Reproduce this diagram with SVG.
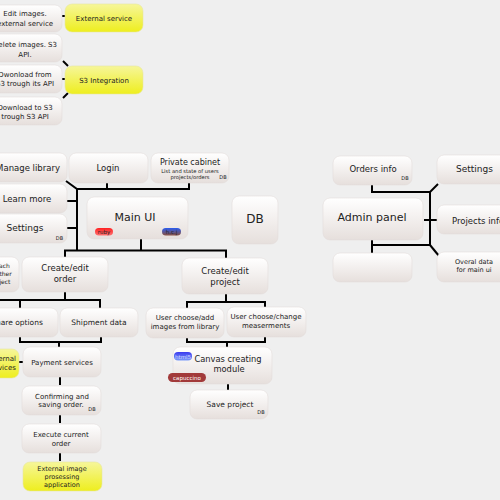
<svg xmlns="http://www.w3.org/2000/svg" width="500" height="500" viewBox="0 0 500 500">
<defs>
<linearGradient id="gw" x1="0" y1="0" x2="0" y2="1"><stop offset="0" stop-color="#ffffff"/><stop offset="1" stop-color="#e6dfdc"/></linearGradient>
<linearGradient id="gy" x1="0" y1="0" x2="0" y2="1"><stop offset="0" stop-color="#f6f69a"/><stop offset="1" stop-color="#eeee1e"/></linearGradient>
<linearGradient id="gr" x1="0" y1="0" x2="0" y2="1"><stop offset="0" stop-color="#ff2020"/><stop offset="1" stop-color="#ff7070"/></linearGradient>
<linearGradient id="gb" x1="0" y1="0" x2="0" y2="1"><stop offset="0" stop-color="#2a5cf0"/><stop offset="1" stop-color="#8a5040"/></linearGradient>
<linearGradient id="gh" x1="0" y1="0" x2="0" y2="1"><stop offset="0" stop-color="#3a3af0"/><stop offset="1" stop-color="#7a9af8"/></linearGradient>
<style>
.b{fill:url(#gw);stroke:#e2dcda;stroke-width:0.6}
.y{fill:url(#gy);stroke:#e6e6a0;stroke-width:0.6}
text{font-family:"DejaVu Sans","Liberation Sans",sans-serif;fill:#222;text-anchor:middle}
.s7{font-size:7px}
.s75{font-size:7.5px}
.s85{font-size:8.5px}
.s9{font-size:9px}
.s11{font-size:11px}
.db{font-size:5px}
.c{stroke:#000;stroke-width:2;fill:none}
.tag{font-size:5.5px}
</style>
</defs>
<rect x="0" y="0" width="500" height="500" fill="#efefef"/>

<g id="connectors" class="c">
<path d="M62,16H65"/>
<path d="M63,61L68,66"/>
<path d="M62,79H65"/>
<path d="M63,98L68,93"/>
<path d="M66,181L77,189H190"/>
<path d="M107,183V190"/>
<path d="M189,183V190"/>
<path d="M77,189V251"/>
<path d="M67,201H77"/>
<path d="M67,228H77"/>
<path d="M64,250.5H227"/>
<path d="M141,239V251"/>
<path d="M65,250V257"/>
<path d="M226,250V258"/>
<path d="M65,292V300"/>
<path d="M-5,300H101"/>
<path d="M20,300V308"/>
<path d="M100,300V308"/>
<path d="M20,337V342H101V337"/>
<path d="M59,342V348"/>
<path d="M19,362H23"/>
<path d="M60,377V385"/>
<path d="M60,415V423"/>
<path d="M60,453V461"/>
<path d="M226,294V302"/>
<path d="M186,302H266"/>
<path d="M187,302V308"/>
<path d="M265,302V307"/>
<path d="M187,338V342H265V337"/>
<path d="M227,342V347"/>
<path d="M228,384V390"/>
<path d="M372,185V192H431"/>
<path d="M430,192V246"/>
<path d="M372,245H431"/>
<path d="M372,240V253"/>
<path d="M430,192L438,184"/>
<path d="M424,220H437"/>
<path d="M430,245L439,256"/>
</g>

<g id="edit-images"><rect class="b" x="-12" y="5" width="74" height="27" rx="7"/><text class="s7" x="25" y="16">Edit images.</text><text class="s7" x="25" y="25.5">external service</text></g>
<g id="external-service"><rect class="y" x="65" y="4" width="78" height="28" rx="7"/><text class="s7" x="104" y="20.5">External service</text></g>
<g id="delete-images"><rect class="b" x="-12" y="34" width="74" height="28" rx="7"/><text class="s7" x="25" y="46.5">Delete images. S3</text><text class="s7" x="25" y="56.5">API.</text></g>
<g id="download-from"><rect class="b" x="-12" y="65" width="74" height="28" rx="7"/><text class="s7" x="25" y="76.5">Dwonload from</text><text class="s7" x="25" y="85.5">S3 trough its API</text></g>
<g id="s3-integration"><rect class="y" x="65" y="66" width="78" height="28" rx="7"/><text class="s7" x="104" y="82.5">S3 Integration</text></g>
<g id="download-to"><rect class="b" x="-12" y="97" width="74" height="28" rx="7"/><text class="s7" x="25" y="109.5">Download to S3</text><text class="s7" x="25" y="118.5">trough S3 API</text></g>

<g id="manage-library"><rect class="b" x="-12" y="153" width="79" height="29" rx="7"/><text class="s85" x="28" y="170.5">Manage library</text></g>
<g id="login"><rect class="b" x="69" y="153" width="79" height="30" rx="7"/><text class="s85" x="108" y="171">Login</text></g>
<g id="private-cabinet"><rect class="b" x="151" y="153" width="78" height="30" rx="7"/><text x="190" y="165" style="font-size:8px">Private cabinet</text><text x="190" y="172.5" style="font-size:5.2px">List and state of users</text><text x="190" y="178.5" style="font-size:5.2px">projects/orders</text><text class="db" x="223" y="179">DB</text></g>
<g id="learn-more"><rect class="b" x="-12" y="184" width="79" height="29" rx="7"/><text class="s85" x="27" y="201.5">Learn more</text></g>
<g id="settings-left"><rect class="b" x="-12" y="214" width="79" height="29" rx="7"/><text class="s9" x="25" y="230.5">Settings</text><text class="db" x="59.5" y="239.5">DB</text></g>
<g id="main-ui"><rect class="b" x="87" y="197" width="101" height="42" rx="7"/><text class="s11" x="135" y="221">Main UI</text>
<rect x="95" y="228" width="18" height="7.5" rx="3.75" fill="url(#gr)"/><text class="tag" x="104" y="234">ruby</text>
<rect x="162" y="228" width="19" height="7.5" rx="3.75" fill="url(#gb)"/><text class="tag" x="171.5" y="234">h.c.j</text></g>
<g id="db"><rect class="b" x="232" y="196" width="46" height="48" rx="7"/><text x="255" y="222.5" style="font-size:12px">DB</text></g>

<g id="attach-project"><rect class="b" x="-17" y="257" width="36" height="35" rx="7"/><text x="0" y="267.5" style="font-size:6px">Attach</text><text x="0" y="275.5" style="font-size:6px">another</text><text x="0" y="283.5" style="font-size:6px">project</text></g>
<g id="create-order"><rect class="b" x="22" y="257" width="86" height="35" rx="7"/><text class="s85" x="65" y="271">Create/edit</text><text class="s85" x="65" y="282">order</text></g>
<g id="create-project"><rect class="b" x="182" y="258" width="86" height="36" rx="7"/><text class="s85" x="225" y="274">Create/edit</text><text class="s85" x="225" y="285">project</text></g>

<g id="share-options"><rect class="b" x="-18" y="308" width="76" height="29" rx="7"/><text class="s75" x="17" y="324.5">Share options</text></g>
<g id="shipment-data"><rect class="b" x="60" y="308" width="78" height="29" rx="7"/><text class="s75" x="99" y="324.5">Shipment data</text></g>
<g id="external-services"><rect class="y" x="-30" y="349" width="49" height="29" rx="7"/><text class="s7" x="1.5" y="360.5">External</text><text class="s7" x="1.5" y="369.5">services</text></g>
<g id="payment-services"><rect class="b" x="23" y="347" width="78" height="30" rx="7"/><text class="s7" x="62" y="364.5">Payment services</text></g>
<g id="confirming"><rect class="b" x="22" y="386" width="79" height="29" rx="7"/><text class="s7" x="62" y="398.5">Confirming and</text><text class="s7" x="61" y="406.5">saving order.</text><text class="db" x="92" y="410.5">DB</text></g>
<g id="execute-order"><rect class="b" x="22" y="424" width="79" height="29" rx="7"/><text class="s7" x="61" y="436.5">Execute current</text><text class="s7" x="61" y="445.5">order</text></g>
<g id="external-image"><rect class="y" x="23" y="462" width="79" height="29" rx="7"/><text x="62" y="470.5" style="font-size:6.5px">External image</text><text x="62" y="478.5" style="font-size:6.5px">prosessing</text><text x="62" y="486.5" style="font-size:6.5px">application</text></g>

<g id="user-images"><rect class="b" x="146" y="308" width="78" height="30" rx="7"/><text class="s7" x="185" y="319.5">User choose/add</text><text class="s7" x="185" y="328.5">images from library</text></g>
<g id="user-measurements"><rect class="b" x="227" y="307" width="79" height="30" rx="7"/><text class="s7" x="266" y="318.5">User choose/change</text><text class="s7" x="266" y="327.5">measerments</text></g>
<g id="canvas-module"><rect class="b" x="173" y="347" width="99" height="37" rx="7"/><text x="228" y="361.5" style="font-size:8.3px">Canvas creating</text><text x="229" y="371.5" style="font-size:8.3px">module</text>
<rect x="174" y="352" width="18" height="8.5" rx="4" fill="url(#gh)"/><text class="tag" x="183" y="358.5" style="fill:#cfd8ff">html5</text>
<rect x="168" y="373" width="38" height="9" rx="4.5" fill="#a23a3a"/><text class="tag" x="187" y="379.8" style="fill:#fff">capuccino</text></g>
<g id="save-project"><rect class="b" x="190" y="390" width="78" height="29" rx="7"/><text class="s75" x="230" y="406.5">Save project</text><text class="db" x="261" y="414">DB</text></g>

<g id="orders-info"><rect class="b" x="333" y="156" width="79" height="29" rx="7"/><text class="s85" x="373" y="172">Orders info</text><text class="db" x="405" y="180">DB</text></g>
<g id="admin-panel"><rect class="b" x="323" y="198" width="100" height="42" rx="7"/><text class="s11" x="372" y="221">Admin panel</text></g>
<g id="empty-node"><rect class="b" x="333" y="253" width="79" height="29" rx="7"/></g>
<g id="settings-right"><rect class="b" x="437" y="155" width="75" height="29" rx="7"/><text class="s9" x="474.5" y="171.5">Settings</text></g>
<g id="projects-info"><rect class="b" x="437" y="205" width="82" height="29" rx="7"/><text class="s85" x="478" y="223.5">Projects info</text></g>
<g id="overal-data"><rect class="b" x="437" y="252" width="75" height="30" rx="7"/><text x="474" y="263.5" style="font-size:6.5px">Overal data</text><text x="474" y="271.5" style="font-size:6.5px">for main ui</text></g>
</svg>
